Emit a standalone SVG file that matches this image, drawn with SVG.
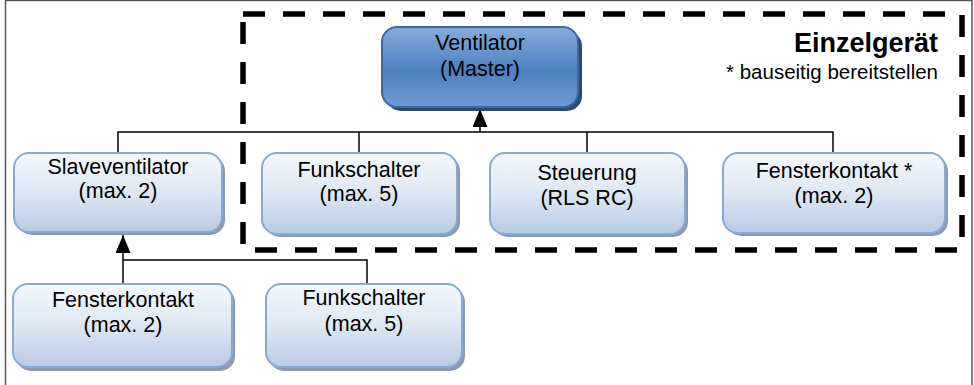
<svg xmlns="http://www.w3.org/2000/svg" width="974" height="385" viewBox="0 0 974 385">
<defs>
<linearGradient id="gLight" x1="0" y1="0" x2="0" y2="1">
<stop offset="0" stop-color="#f5f8fc"/>
<stop offset="0.5" stop-color="#dde7f3"/>
<stop offset="1" stop-color="#b7cbe4"/>
</linearGradient>
<linearGradient id="gMaster" x1="0" y1="0" x2="0" y2="1">
<stop offset="0" stop-color="#86acdc"/>
<stop offset="0.55" stop-color="#4e80c0"/>
<stop offset="1" stop-color="#6e9ad2"/>
</linearGradient>
<marker id="arr" markerWidth="18" markerHeight="15" refX="18" refY="7.5" orient="auto" markerUnits="userSpaceOnUse" viewBox="0 0 18 15">
<path d="M0,0 L18,7.5 L0,15 Z" fill="#000"/>
</marker>
<style>
.shadow{fill:#8d9aab;}
.mshadow{fill:#2a4a73;}
.box{fill:url(#gLight);stroke:#86a9d6;stroke-width:2;}
.mbox{fill:url(#gMaster);stroke:#3a68a6;stroke-width:2;}
.t{font-family:"Liberation Sans",Arial,sans-serif;font-size:21.5px;fill:#000;text-anchor:middle;}
.c{fill:none;stroke:#000;stroke-width:1.5;}
</style>
</defs>
<rect x="0" y="0" width="974" height="385" fill="#fff"/>
<path d="M5.5,395 V0.5 H972 V395" fill="none" stroke="#555" stroke-width="1.5"/>
<path d="M243,14 H962 V250 H243 Z" fill="none" stroke="#000" stroke-width="5.5" stroke-dasharray="22 18"/>
<g id="connectors">
<path class="c" d="M118,153 V132 H833 V153"/>
<path class="c" d="M359,132 V153"/>
<path class="c" d="M587,132 V153"/>
<path class="c" d="M480,132 V109" marker-end="url(#arr)"/>
<path class="c" d="M367,284 V260 H123"/>
<path class="c" d="M123,284 V235" marker-end="url(#arr)"/>
</g>
<g id="master">
<rect class="mshadow" x="386" y="31" width="196" height="80" rx="15"/>
<rect class="mbox" x="382" y="27" width="196" height="80" rx="15"/>
<text class="t" x="480" y="50">Ventilator</text>
<text class="t" x="480" y="76">(Master)</text>
</g>
<g id="slave">
<rect class="shadow" x="17" y="156" width="208" height="79" rx="15"/>
<rect class="box" x="14" y="153" width="208" height="79" rx="15"/>
<text class="t" x="118" y="174">Slaveventilator</text>
<text class="t" x="118" y="198">(max. 2)</text>
</g>
<g id="funkschalter1">
<rect class="shadow" x="265" y="156" width="195" height="81" rx="15"/>
<rect class="box" x="262" y="153" width="195" height="81" rx="15"/>
<text class="t" x="359" y="177">Funkschalter</text>
<text class="t" x="359" y="201">(max. 5)</text>
</g>
<g id="steuerung">
<rect class="shadow" x="493" y="156" width="195" height="81" rx="15"/>
<rect class="box" x="490" y="153" width="195" height="81" rx="15"/>
<text class="t" x="587" y="180">Steuerung</text>
<text class="t" x="587" y="205">(RLS RC)</text>
</g>
<g id="fensterkontakt1">
<rect class="shadow" x="726" y="156" width="222" height="80" rx="15"/>
<rect class="box" x="723" y="153" width="222" height="80" rx="15"/>
<text class="t" x="834" y="178">Fensterkontakt *</text>
<text class="t" x="834" y="203">(max. 2)</text>
</g>
<g id="fensterkontakt2">
<rect class="shadow" x="16" y="287" width="219" height="84" rx="15"/>
<rect class="box" x="13" y="284" width="219" height="83" rx="15"/>
<text class="t" x="123" y="307">Fensterkontakt</text>
<text class="t" x="123" y="332">(max. 2)</text>
</g>
<g id="funkschalter2">
<rect class="shadow" x="269" y="287" width="196" height="84" rx="15"/>
<rect class="box" x="266" y="284" width="196" height="83" rx="15"/>
<text class="t" x="364" y="305">Funkschalter</text>
<text class="t" x="364" y="331">(max. 5)</text>
</g>
<g id="legend">
<text x="938" y="52" font-family="Liberation Sans,Arial,sans-serif" font-size="27" font-weight="bold" text-anchor="end">Einzelgerät</text>
<text x="938" y="79" font-family="Liberation Sans,Arial,sans-serif" font-size="20.5" text-anchor="end">* bauseitig bereitstellen</text>
</g>
</svg>
